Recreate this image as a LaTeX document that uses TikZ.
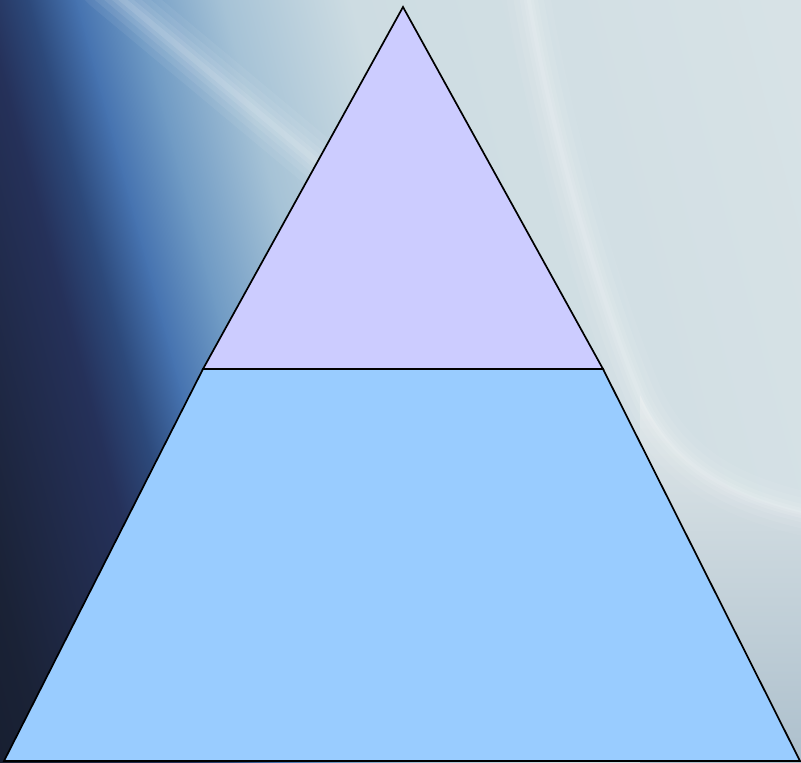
\documentclass[tikz,border=0pt]{standalone}
\usetikzlibrary{fadings}
\definecolor{bgA}{HTML}{121826}
\definecolor{bgB}{HTML}{1A2236}
\definecolor{bgC}{HTML}{25315A}
\definecolor{bgD}{HTML}{2D4A7C}
\definecolor{bgE}{HTML}{4673B0}
\definecolor{bgF}{HTML}{6F9AC4}
\definecolor{bgG}{HTML}{A5C2D6}
\definecolor{bgH}{HTML}{CDDCE2}
\definecolor{bgI}{HTML}{DFE7E9}
\definecolor{bgLow}{HTML}{ACBFCC}
\definecolor{topfill}{HTML}{CCCCFF}
\definecolor{basefill}{HTML}{99CCFF}
\tikzset{
  tier/.style={draw=black, line width=1.7pt, line join=miter},
  glow/.style={draw=white, line cap=round}
}
\begin{document}
\begin{tikzpicture}[x=1pt,y=-1pt]
\useasboundingbox (0,0) rectangle (801,763);
\begin{scope}
  \clip (0,0) rectangle (801,763);
  \begin{scope}[transform canvas={rotate around={15:(400,380)}}]
    \shade[left color=bgA,right color=bgB] (-200,-400) rectangle (-39,1200);
    \shade[left color=bgB,right color=bgC] (-40,-400) rectangle (96,1200);
    \shade[left color=bgC,right color=bgD] (95,-400) rectangle (141,1200);
    \shade[left color=bgD,right color=bgE] (140,-400) rectangle (186,1200);
    \shade[left color=bgE,right color=bgF] (185,-400) rectangle (241,1200);
    \shade[left color=bgF,right color=bgG] (240,-400) rectangle (326,1200);
    \shade[left color=bgG,right color=bgH] (325,-400) rectangle (451,1200);
    \shade[left color=bgH,right color=bgI] (450,-400) rectangle (1200,1200);
  \end{scope}
  % lower right darker area
  \shade[top color=bgI, bottom color=bgLow]
    (640,395) .. controls (670,460) and (720,495) .. (810,515)
    -- (810,770) -- (640,770) -- cycle;
  % white streak top left
  \foreach \w/\o in {50/0.06, 36/0.07, 24/0.08, 14/0.09, 6/0.10}
    \draw[glow, line width=\w pt, opacity=\o] (105,-15) -- (345,185);
  % white streak right
  \foreach \w/\o in {44/0.05, 30/0.07, 18/0.08, 10/0.10, 4/0.10}
    \draw[glow, line width=\w pt, opacity=\o]
      (528,-5) .. controls (550,130) and (600,300) .. (640,395)
      .. controls (670,460) and (720,495) .. (810,515);
\end{scope}
% pyramid
\coordinate (apex) at (403,7);
\coordinate (ml) at (203,369);
\coordinate (mr) at (603,369);
\coordinate (bl) at (4,761);
\coordinate (br) at (800,761);
\filldraw[tier, fill=basefill] (ml) -- (mr) -- (br) -- (bl) -- cycle;
\filldraw[tier, fill=topfill] (apex) -- (mr) -- (ml) -- cycle;
\end{tikzpicture}
\end{document}
